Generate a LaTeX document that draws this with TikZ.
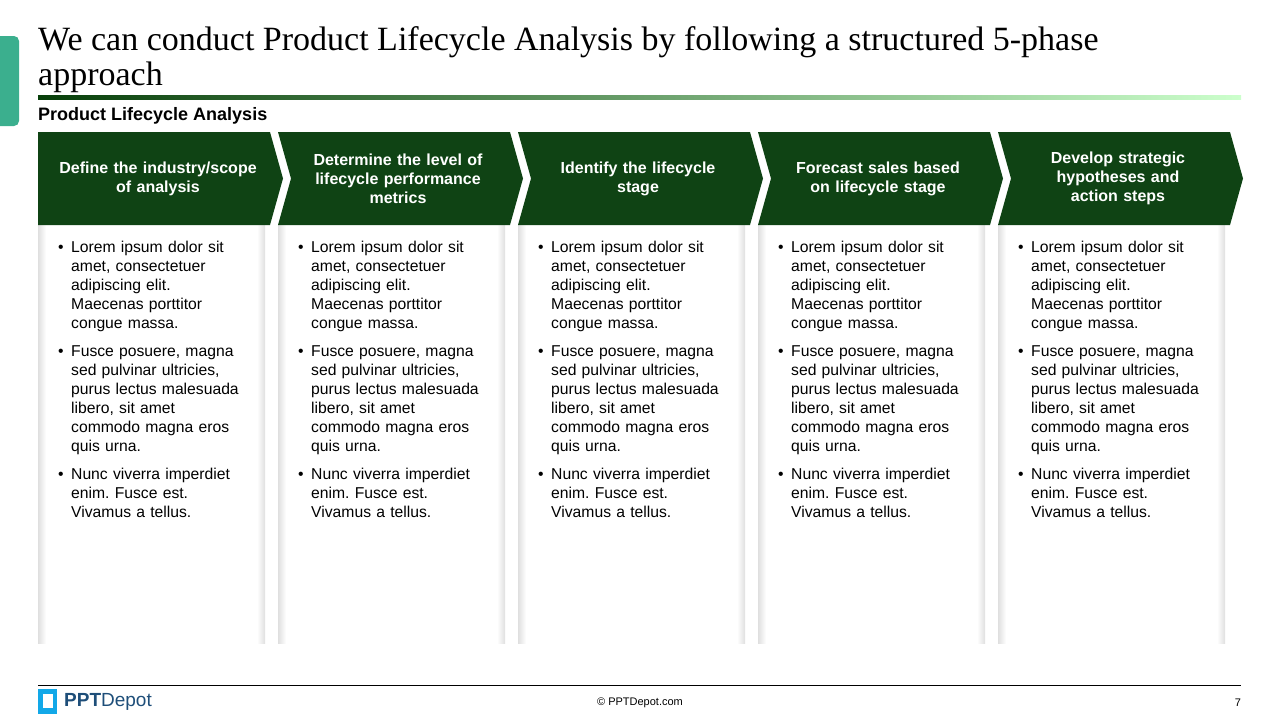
\documentclass[tikz,border=0pt]{standalone}
\usepackage{fontspec}
\setmainfont{Liberation Sans}
\newfontfamily\titlefont{Liberation Serif}
\usetikzlibrary{positioning}
\definecolor{darkgreen}{HTML}{0F4314}
\definecolor{tealtab}{HTML}{3BAF8E}
\definecolor{logoblue}{HTML}{1E4E79}
\definecolor{logocyan}{HTML}{12A8E8}
\newcommand{\bulletitem}[1]{\par\hangindent=13pt\hangafter=1\noindent\makebox[13pt][l]{\textbullet}#1\par}
\newcommand{\phasetext}{%
  \raggedright\frenchspacing\hyphenpenalty=10000\exhyphenpenalty=10000
  \bulletitem{Lorem ipsum dolor sit amet, consectetuer adipiscing elit. Maecenas porttitor congue massa.}\vspace{9pt}
  \bulletitem{Fusce posuere, magna sed pulvinar ultricies, purus lectus malesuada libero, sit amet commodo magna eros quis urna.}\vspace{9pt}
  \bulletitem{Nunc viverra imperdiet enim. Fusce est. Vivamus a tellus.}}
\begin{document}
\begin{tikzpicture}[
    x = 1pt, y = -1pt,
    phase/.style = {text = white, font = \bfseries\fontsize{16}{19}\selectfont,
      align = center, text width = 210pt},
    body/.style = {anchor = north west, text width = 185pt, inner sep = 0pt,
      font = \fontsize{15.7}{19}\selectfont, align = left}
    ]
    \useasboundingbox (0,0) rectangle (1280,720);
    % header
    \fill[tealtab, rounded corners = 5pt] (-10,36) rectangle (19,126);
    \node[anchor = north west, inner sep = 0pt, align = left,
      font = \titlefont\fontsize{34}{35}\selectfont] (title) at (38,26)
      {We can conduct Product Lifecycle Analysis by following a structured 5-phase\\approach};
    \shade[left color = darkgreen!80!green!60!black, right color = green!20!white]
      (38,95) rectangle (1241,99);
    \node[anchor = west, inner sep = 0pt, font = \bfseries\fontsize{18}{20}\selectfont]
      (subtitle) at (38,116) {Product Lifecycle Analysis};
    % phases
    \foreach \i/\txt in {0/{Define the industry/scope\\of analysis},
                         1/{Determine the level of\\lifecycle performance\\metrics},
                         2/{Identify the lifecycle\\stage},
                         3/{Forecast sales based\\on lifecycle stage},
                         4/{Develop strategic\\hypotheses and\\action steps}} {
      \pgfmathsetmacro{\xo}{240*\i}
      \begin{scope}[xshift = \xo]
        \fill[white] (38,225) rectangle (265,643);
        \shade[left color = gray!25, right color = white] (38,225) rectangle (46,643);
        \shade[left color = white, right color = gray!25] (257,225) rectangle (265,643);
        \ifnum\i=0
          \fill[darkgreen] (38,132) -- (270,132) -- (283,178.5) -- (270,225) -- (38,225) -- cycle;
        \else
          \fill[darkgreen] (38,132) -- (270,132) -- (283,178.5) -- (270,225) -- (38,225)
            -- (51,178.5) -- cycle;
        \fi
        \node[phase] (phase\i) at (158,178.5) {\txt};
        \node[body] (body\i) at (58,233) {\phasetext};
      \end{scope}
    }
    % footer
    \draw[black, line width = 1pt] (38,685.5) -- (1241,685.5);
    \fill[logocyan] (38,689) rectangle (57,714);
    \fill[white] (43,694) rectangle (53,708);
    \fill[logocyan] (43,708) -- (48,708) -- (43,713) -- cycle;
    \node[anchor = west, inner sep = 0pt, text = logoblue,
      font = \fontsize{19}{22}\selectfont] (logo) at (64,702) {\textbf{PPT}Depot};
    \node[font = \fontsize{11}{13}\selectfont] (copyright) at (640,703) {\textcopyright{} PPTDepot.com};
    \node[font = \fontsize{11}{13}\selectfont] (pagenum) at (1238,703) {7};
\end{tikzpicture}
\end{document}
